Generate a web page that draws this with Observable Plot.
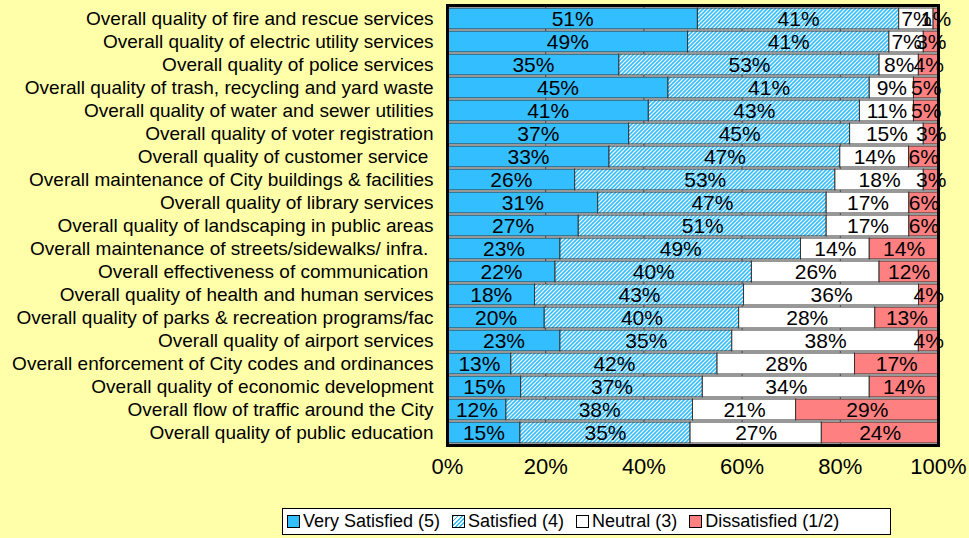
<!DOCTYPE html>
<html>
<head>
<meta charset="utf-8">
<script src="https://cdn.jsdelivr.net/npm/d3@7"></script>
<script src="https://cdn.jsdelivr.net/npm/@observablehq/plot@0.6"></script>
<style>
  html, body { margin: 0; padding: 0; }
  body { background: #FFFFAA; width: 969px; height: 538px; position: relative; overflow: hidden; font-family: "Liberation Sans", Arial, sans-serif; }
  #chart { position: absolute; left: 0; top: 0; }
  #chart svg text { white-space: pre; }
  #legend { position: absolute; left: 282px; top: 508px; width: 607px; height: 25px; background: white; border: 1px solid black;
            display: flex; align-items: center; font-size: 18px; color: black; white-space: pre; }
  .sw { display: inline-block; width: 11px; height: 11px; border: 1px solid black; margin-right: 3px; }
  .item { display: flex; align-items: center; margin-left: 4px; margin-right: 8px; }
</style>
</head>
<body>
<div id="chart"></div>
<div id="legend"></div>
<script>
const categories = [
  "Overall quality of fire and rescue services",
  "Overall quality of electric utility services",
  "Overall quality of police services",
  "Overall quality of trash, recycling and yard waste",
  "Overall quality of water and sewer utilities",
  "Overall quality of voter registration",
  "Overall quality of customer service ",
  "Overall maintenance of City buildings & facilities",
  "Overall quality of library services",
  "Overall quality of landscaping in public areas",
  "Overall maintenance of streets/sidewalks/ infra. ",
  "Overall effectiveness of communication ",
  "Overall quality of health and human services",
  "Overall quality of parks & recreation programs/fac",
  "Overall quality of airport services",
  "Overall enforcement of City codes and ordinances",
  "Overall quality of economic development",
  "Overall flow of traffic around the City",
  "Overall quality of public education"
];
const levels = ["Very Satisfied (5)", "Satisfied (4)", "Neutral (3)", "Dissatisfied (1/2)"];
const verySatisfied = [51, 49, 35, 45, 41, 37, 33, 26, 31, 27, 23, 22, 18, 20, 23, 13, 15, 12, 15];
const satisfied     = [41, 41, 53, 41, 43, 45, 47, 53, 47, 51, 49, 40, 43, 40, 35, 42, 37, 38, 35];
const neutral       = [ 7,  7,  8,  9, 11, 15, 14, 18, 17, 17, 14, 26, 36, 28, 38, 28, 34, 21, 27];
const dissatisfied  = [ 1,  3,  4,  5,  5,  3,  6,  3,  6,  6, 14, 12,  4, 13,  4, 17, 14, 29, 24];
const xTicks = [0, 0.2, 0.4, 0.6, 0.8, 1];

const colors = ["#33BEFF", "url(#hatch)", "#FFFFFF", "#FF8080"];

const series = [verySatisfied, satisfied, neutral, dissatisfied];
const data = [];
categories.forEach((c, i) => {
  levels.forEach((l, j) => data.push({category: c, level: l, value: series[j][i]}));
});

const defsMark = () => {
  const g = d3.create("svg:g");
  const p = g.append("defs").append("pattern")
    .attr("id", "hatch").attr("patternUnits", "userSpaceOnUse")
    .attr("width", 4).attr("height", 4);
  p.append("rect").attr("width", 4).attr("height", 4).attr("fill", "white");
  p.append("path").attr("d", "M-1,1 l2,-2 M0,4 l4,-4 M3,5 l2,-2")
    .attr("stroke", "#33BEFF").attr("stroke-width", 1.6);
  return g.node();
};

const stackOpts = {x: "value", y: "category", z: "level", order: levels, offset: "normalize"};

const chart = Plot.plot({
  width: 969,
  height: 505,
  marginLeft: 447,
  marginRight: 31,
  marginTop: 5,
  marginBottom: 60,
  style: {background: "transparent", fontFamily: "'Liberation Sans', Arial, sans-serif", color: "black"},
  x: {domain: [0, 1], ticks: xTicks, tickFormat: d3.format(".0%")},
  y: {domain: categories, padding: 0.1},
  color: {type: "ordinal", domain: levels, range: colors},
  marks: [
    defsMark,
    Plot.frame({fill: "white", stroke: null}),
    Plot.ruleX(xTicks.slice(1, -1), {stroke: "#555", strokeWidth: 1}),
    Plot.barX(data, Plot.stackX({...stackOpts, fill: "level", stroke: "#333", strokeWidth: 1})),
    Plot.text(data, Plot.stackX({...stackOpts, fill: "black", text: d => d.value + "%", fontSize: 21, textAnchor: "middle"})),
    Plot.frame({stroke: "black", strokeWidth: 3}),
    Plot.axisX({ticks: xTicks, tickFormat: d3.format(".0%"), tickSize: 0, tickPadding: 13, fontSize: 22, label: null}),
    Plot.axisY({tickSize: 0, tickPadding: 14, fontSize: 19, label: null})
  ]
});
document.getElementById("chart").appendChild(chart);

const legend = document.getElementById("legend");
const swatchBg = [
  "#33BEFF",
  "repeating-linear-gradient(135deg, #33BEFF 0 1.2px, white 1.2px 3px)",
  "white",
  "#FF8080"
];
levels.forEach((l, j) => {
  const item = document.createElement("div");
  item.className = "item";
  const sw = document.createElement("span");
  sw.className = "sw";
  sw.style.background = swatchBg[j];
  item.appendChild(sw);
  item.appendChild(document.createTextNode(l));
  legend.appendChild(item);
});
</script>
</body>
</html>
